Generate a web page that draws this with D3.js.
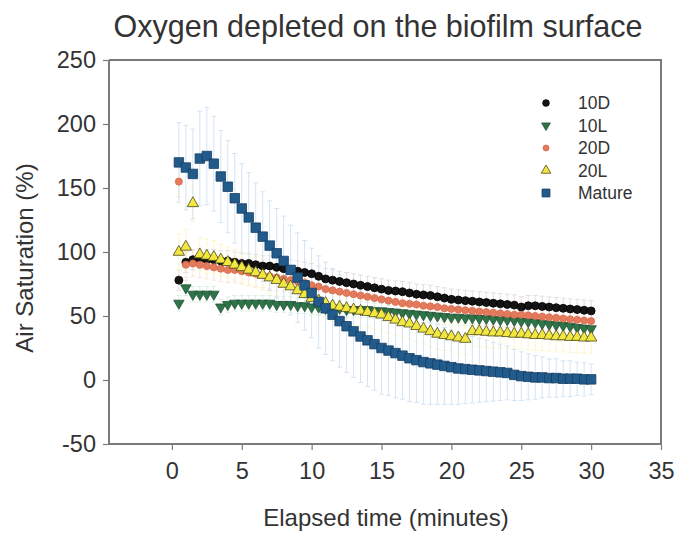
<!DOCTYPE html>
<html>
<head>
<meta charset="utf-8">
<script src="https://cdn.jsdelivr.net/npm/d3@7"></script>
<style>
  html, body { margin: 0; padding: 0; background: #fff; }
  svg { display: block; font-family: "Liberation Sans", Arial, sans-serif; }
</style>
</head>
<body>
<svg id="chart" width="679" height="535"></svg>
<script>
// Sampling times (minutes)
const times = [0.5,1,1.5,2,2.5,3,3.5,4,4.5,5,5.5,6,6.5,7,7.5,8,8.5,9,9.5,10,
  10.5,11,11.5,12,12.5,13,13.5,14,14.5,15,15.5,16,16.5,17,17.5,18,18.5,19,19.5,20,
  20.5,21,21.5,22,22.5,23,23.5,24,24.5,25,25.5,26,26.5,27,27.5,28,28.5,29,29.5,30];

// Air saturation (%) per biofilm
const d10D = [78,92,94,95,94,94,93,93,92,91,91,90,89,89,88,87,86,85,84,83,
  81,79,78,77,76,75,74,73,72,71,70,69.5,69,68,67,66.5,66,65,64,63,
  62.5,62,61.5,61,60.5,60,59.5,59,58.5,57,58,58,57.5,57,56.5,56,55.5,55,54.5,54];
const d10L = [60,72,67,67,67,67,57,59,60,60,60,60,60,60,59,59,59,58,58,57,
  57,56,56,56,55,55,55,55,54,54,53.5,53,52.5,52,51.5,51,50.5,50,49.5,49,
  49,48.5,48.5,48,48,47.5,47,47,46.5,46,45.5,45,44,43.5,43,42.5,42,41,40.5,40];
const d20D = [155,90,91,90,89,88,87,86,86,85,84,83,82,81,80,79,78,77,76,74,
  73,71,70,69,68,67,66,65,64,63,62,61,60,59.5,59,58,57.5,57,56,55.5,
  55,54.5,54,53.5,53,52.5,52,51.5,51,51,50.5,50,49.5,49,48.5,48,47.5,47,46.5,46];
const d20L = [100,104,138,98,97,96,94,92,90,88,86,84,82,80,78,75,73,70,67,64,
  62,60,58,57,56,55,54,53,52,51,49,47,45,44,42,40,38,36,35,34,
  33,32,38,38,37.5,37,37,36.5,36,36,35.5,35,35,34.5,34,34,33.5,33.5,33,33];
const dMature = [170,166,161,173,175,169,159,151,142,134,127,119,112,105,99,93,86,80,74,68,
  61,56,51,46,42,38,34,31,28,25,23,21,19,17,15.5,14,13,12,11,10,
  9,8.5,8,7.5,7,6.5,6,5.5,4,3,2.5,2,2,1.5,1.5,1,1,1,0.5,0.5];

// Standard deviations
const e10D = [8,8,8,8,8,8,8,8,8,8,8,8,8,8,8,8,8,8,8,8,
  8,8,8,8,8,8,8,8,8,8,8,8,8,8,8,8,8,8,8,8,
  8,8,8,8,8,8,8,8,8,8,8,8,8,8,8,8,8,8,8,8];
const e10L = [6,6,6,6,6,6,6,6,6,6,6,6,6,6,6,6,6,6,6,6,
  6,6,6,6,6,6,6,6,6,6,6,6,6,6,6,6,6,6,6,6,
  6,6,6,6,6,6,6,6,6,6,6,6,6,6,6,6,6,6,6,6];
const e20D = [12,10,10,10,10,10,10,10,10,10,10,10,10,10,10,10,10,10,10,10,
  10,10,10,10,10,10,10,10,10,10,10,10,10,10,10,10,10,10,10,10,
  10,10,10,10,10,10,10,10,10,10,10,10,10,10,10,10,10,10,10,10];
const e20L = [14,14,14,13,13,13,12,12,12,12,12,12,12,12,12,12,12,12,12,12,
  12,12,12,12,12,12,12,12,12,12,12,12,12,12,12,12,12,12,12,12,
  12,12,12,12,12,12,12,12,12,12,12,12,12,12,12,12,12,12,12,12];
const eMature = [31,33,35,37,38,37,36,36,35,35,35,35,35,35,35,35,35,35,35,35,
  36,36,36,36,36,36,36,36,36,36,35,35,34,34,33,33,32,31,30,29,
  28,27,26,25,24,23,22,21,20,19,18,17,16,15,15,14,14,13,13,12];

const seriesNames = ["10D", "10L", "20D", "20L", "Mature"];
const xTicks = [0,5,10,15,20,25,30,35];
const yTicks = [-50,0,50,100,150,200,250];

const series = [
  {name: "10D", values: d10D, err: e10D, shape: d3.symbolCircle, size: 50, fill: "#141414", stroke: "#000", errColor: "#e6dede"},
  {name: "10L", values: d10L, err: e10L, shape: "down", size: 48, fill: "#2d7447", stroke: "#24533a", errColor: "#dcefe0"},
  {name: "20D", values: d20D, err: e20D, shape: d3.symbolCircle, size: 40, fill: "#e47a5c", stroke: "#d86a4c", errColor: "#fbe3d6"},
  {name: "20L", values: d20L, err: e20L, shape: "up", size: 56, fill: "#f2e640", stroke: "#4d4a1a", errColor: "#fcf6c8"},
  {name: "Mature", values: dMature, err: eMature, shape: d3.symbolSquare, size: 90, fill: "#215b8c", stroke: "#183f63", errColor: "#d3e4f4"}
];

const svg = d3.select("#chart");
const m = {left: 109, right: 661, top: 60, bottom: 444};

const x = d3.scaleLinear().domain([-4.5, 35]).range([m.left, m.right]);
const y = d3.scaleLinear().domain([-50, 250]).range([m.bottom, m.top]);

function shapePath(s, scale) {
  const sz = s.size * (scale || 1);
  if (s.shape === "up" || s.shape === "down") return d3.symbol(d3.symbolTriangle, sz)();
  return d3.symbol(s.shape, sz)();
}
function shapeRotate(s) { return s.shape === "down" ? " rotate(180)" : ""; }

// Title
svg.append("text")
  .attr("x", 378).attr("y", 37)
  .attr("text-anchor", "middle")
  .attr("font-size", 30.5)
  .attr("fill", "#333")
  .text("Oxygen depleted on the biofilm surface");

// Error bars (drawn beneath the markers)
const errG = svg.append("g");
series.forEach(s => {
  const g = errG.append("g").attr("stroke", s.errColor).attr("stroke-width", 1).attr("fill", "none");
  times.forEach((t, i) => {
    const cx = x(t), top = y(s.values[i] + s.err[i]), bot = y(s.values[i] - s.err[i]);
    g.append("line").attr("x1", cx).attr("x2", cx).attr("y1", top).attr("y2", bot);
    g.append("line").attr("x1", cx - 2.5).attr("x2", cx + 2.5).attr("y1", top).attr("y2", top);
    g.append("line").attr("x1", cx - 2.5).attr("x2", cx + 2.5).attr("y1", bot).attr("y2", bot);
  });
});

// Markers
series.forEach(s => {
  svg.append("g").selectAll("path")
    .data(times.map((t, i) => [t, s.values[i]]))
    .join("path")
    .attr("d", shapePath(s))
    .attr("transform", d => `translate(${x(d[0])},${y(d[1])})` + shapeRotate(s))
    .attr("fill", s.fill)
    .attr("stroke", s.stroke)
    .attr("stroke-width", 0.8);
});

// Axes
const axisColor = "#7a7a7a";
const fmt = d => String(d);
const xAxis = svg.append("g")
  .attr("transform", `translate(0,${m.bottom})`)
  .call(d3.axisBottom(x).tickValues(xTicks).tickSize(6).tickPadding(10).tickFormat(fmt));
const yAxis = svg.append("g")
  .attr("transform", `translate(${m.left},0)`)
  .call(d3.axisLeft(y).tickValues(yTicks).tickSize(6).tickPadding(7).tickFormat(fmt));
[xAxis, yAxis].forEach(a => {
  a.select(".domain").attr("stroke", axisColor).attr("stroke-width", 2);
  a.selectAll(".tick line").attr("stroke", axisColor).attr("stroke-width", 1.2);
  a.selectAll(".tick text").attr("fill", "#333").attr("font-size", 23.5)
    .attr("font-family", "'Liberation Sans', Arial, sans-serif");
});
xAxis.selectAll(".tick text").attr("dy", "0.8em");
xAxis.select(".domain").attr("d", `M${m.left},0H${m.right}`);
yAxis.select(".domain").attr("d", `M0,${m.bottom}V${m.top}`);

// Top and right frame
svg.append("path")
  .attr("d", `M${m.left},${m.top}H${m.right}V${m.bottom}`)
  .attr("fill", "none").attr("stroke", axisColor).attr("stroke-width", 2);

// Axis titles
svg.append("text")
  .attr("x", 386).attr("y", 526)
  .attr("text-anchor", "middle").attr("font-size", 24).attr("fill", "#333")
  .text("Elapsed time (minutes)");
svg.append("text")
  .attr("transform", `translate(33,${(m.top + m.bottom) / 2 + 6}) rotate(-90)`)
  .attr("text-anchor", "middle").attr("font-size", 24).attr("fill", "#333")
  .text("Air Saturation (%)");

// Legend
const legend = svg.append("g").attr("transform", "translate(546,103)");
series.forEach((s, i) => {
  const row = legend.append("g").attr("transform", `translate(0,${i * 22.5})`);
  row.append("path")
    .attr("d", shapePath(s, 0.7))
    .attr("transform", shapeRotate(s).trim())
    .attr("fill", s.fill).attr("stroke", s.stroke).attr("stroke-width", 0.8);
  row.append("text")
    .attr("x", 32).attr("y", 6)
    .attr("font-size", 17.5).attr("fill", "#333")
    .text(seriesNames[i]);
});
</script>
</body>
</html>
